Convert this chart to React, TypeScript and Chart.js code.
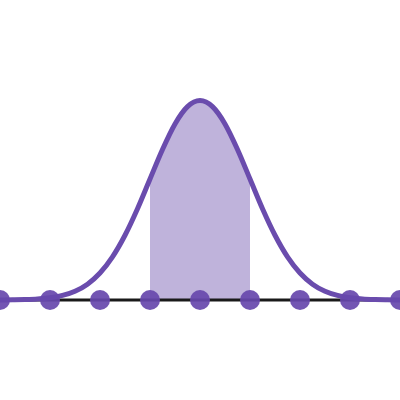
import React, { useEffect, useRef } from "react";
import { Chart, registerables } from "chart.js";

Chart.register(...registerables);

// Curve samples (x in standard deviations, y = density)
const curveX = [-4, -3.75, -3.5, -3.25, -3, -2.75, -2.5, -2.25, -2, -1.75, -1.5, -1.25, -1, -0.75, -0.5, -0.25, 0,
  0.25, 0.5, 0.75, 1, 1.25, 1.5, 1.75, 2, 2.25, 2.5, 2.75, 3, 3.25, 3.5, 3.75, 4];
const curveY = [0.0001, 0.0004, 0.0009, 0.002, 0.0044, 0.0091, 0.0175, 0.0317, 0.054, 0.0863, 0.1295, 0.1826, 0.242, 0.3011, 0.3521, 0.3867, 0.3989,
  0.3867, 0.3521, 0.3011, 0.242, 0.1826, 0.1295, 0.0863, 0.054, 0.0317, 0.0175, 0.0091, 0.0044, 0.002, 0.0009, 0.0004, 0.0001];
const shadeFrom = -1;
const shadeTo = 1;
const dotX = [-4, -3, -2, -1, 0, 1, 2, 3, 4];

export default function App() {
  const ref = useRef<HTMLCanvasElement | null>(null);
  useEffect(() => {
    if (!ref.current) return;
    const curve = curveX.map((x, i) => ({ x, y: curveY[i] }));
    const shade = curve.filter((p) => p.x >= shadeFrom && p.x <= shadeTo);
    const dots = dotX.map((x) => ({ x, y: 0 }));
    const chart = new Chart(ref.current, {
      type: "scatter",
      data: {
        datasets: [
          {
            data: shade,
            showLine: true,
            fill: "origin",
            backgroundColor: "#bfb3db",
            borderWidth: 0,
            borderColor: "rgba(0,0,0,0)",
            pointRadius: 0,
            tension: 0.4,
            cubicInterpolationMode: "monotone",
            order: 4,
          },
          {
            data: [{ x: -4, y: 0 }, { x: 4, y: 0 }],
            showLine: true,
            borderColor: "#1a1a1a",
            borderWidth: 3,
            pointRadius: 0,
            order: 3,
          },
          {
            data: curve,
            showLine: true,
            borderColor: "#6a4cad",
            borderWidth: 5,
            pointRadius: 0,
            tension: 0.4,
            cubicInterpolationMode: "monotone",
            clip: false,
            order: 2,
          },
          {
            data: dots,
            showLine: false,
            pointRadius: 10,
            pointBackgroundColor: "rgba(103,72,172,0.92)",
            pointBorderWidth: 0,
            clip: false,
            order: 1,
          },
        ],
      },
      options: {
        animation: false,
        responsive: false,
        layout: { padding: 0, autoPadding: false },
        plugins: { legend: { display: false }, tooltip: { enabled: false } },
        events: [],
        scales: {
          x: { type: "linear", min: -4, max: 4, display: false },
          y: { type: "linear", min: -0.2, max: 0.6, display: false },
        },
      },
    });
    return () => chart.destroy();
  }, []);
  return (
    <div style={{ position: "fixed", left: 0, top: 0, width: 400, height: 400, background: "#fff" }}>
      <canvas ref={ref} width={400} height={400} />
    </div>
  );
}
